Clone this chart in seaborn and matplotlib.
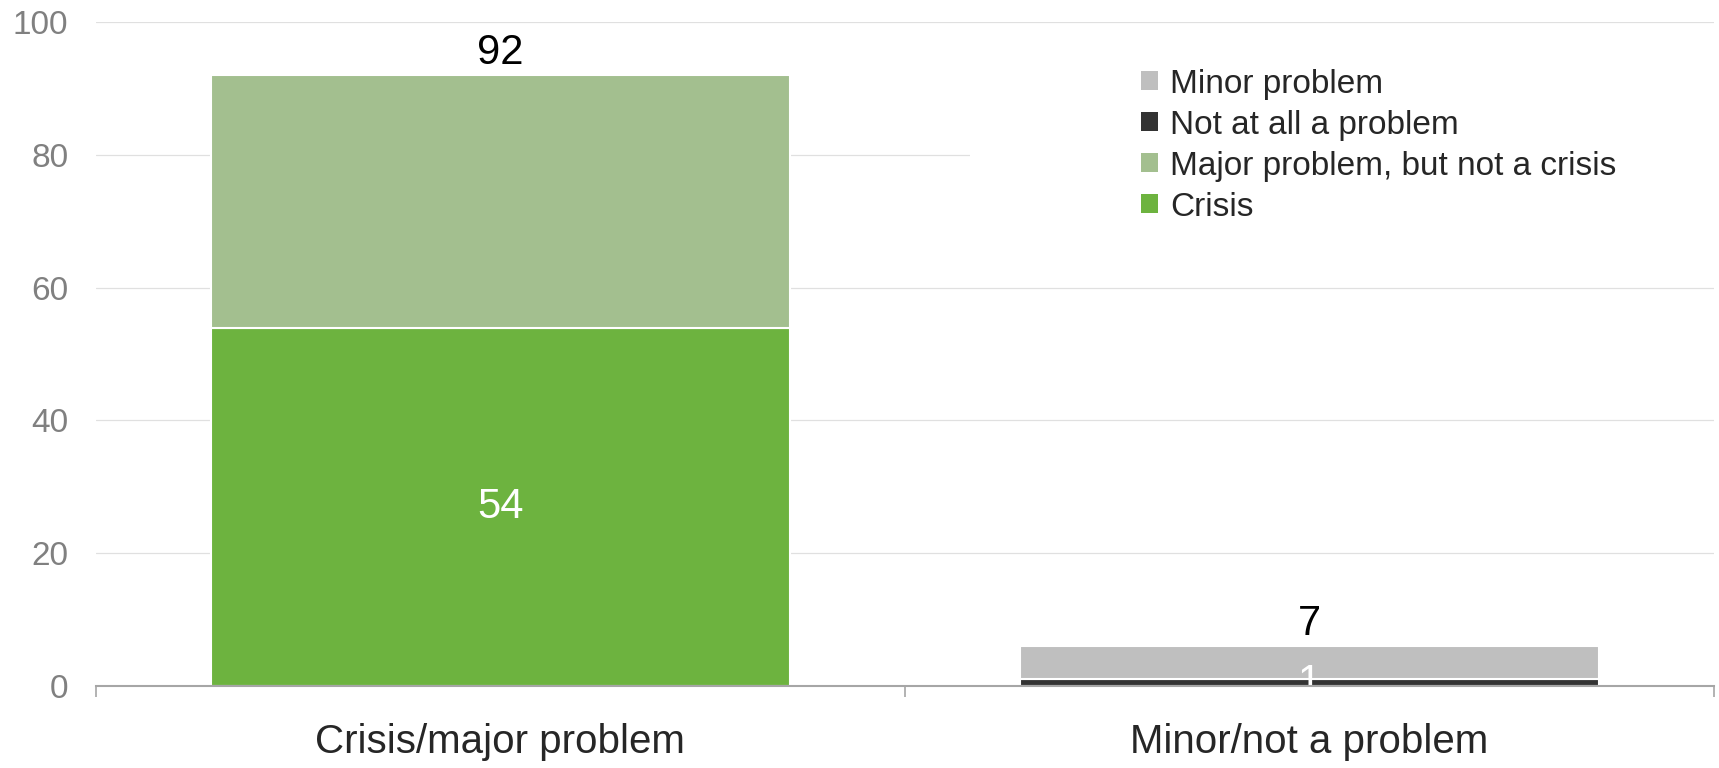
import numpy as np
import pandas as pd
import matplotlib
matplotlib.use("Agg")
import matplotlib.pyplot as plt
import seaborn as sns
from matplotlib.patches import Patch, Rectangle

# chart data
categories = ["Crisis/major problem", "Minor/not a problem"]
series_names = ["Crisis", "Major problem, but not a crisis", "Not at all a problem", "Minor problem"]
crisis = [54, 0]
major = [38, 0]
not_at_all = [0, 1]
minor = [0, 5]
total_labels = [92, 7]
colors = ["#6db33f", "#a3bf8f", "#333333", "#bfbfbf"]

sns.set_theme(style="white")
plt.rcParams["font.family"] = ["Liberation Sans", "DejaVu Sans"]

rows = []
for name, vals in zip(series_names, [crisis, major, not_at_all, minor]):
    for cat, v in zip(categories, vals):
        rows.append({"category": cat, "series": name, "value": v})
df = pd.DataFrame(rows)

fig = plt.figure(figsize=(17.19, 7.68), dpi=100)
ax = fig.add_axes([0.0558, 0.107, 0.9412, 0.864])

# gridlines + white box behind legend
for yv in range(20, 101, 20):
    ax.axhline(yv, color="#e0e0e0", lw=0.9, zorder=0)
ax.add_patch(Rectangle((0.54, 0.70), 0.46, 0.265, transform=ax.transAxes,
                       facecolor="white", edgecolor="none", zorder=0.5))

bottoms = {c: 0.0 for c in categories}
for name, color in zip(series_names, colors):
    sub = df[(df.series == name) & (df.value > 0)].reset_index(drop=True)
    if sub.empty:
        continue
    b = np.array([bottoms[c] for c in sub.category])
    sns.barplot(data=sub, x="category", y="value", order=categories, bottom=b,
                color=color, saturation=1, width=0.716, edgecolor="white",
                linewidth=1.5, ax=ax, zorder=2)
    for c, v, bb in zip(sub.category, sub.value, b):
        i = categories.index(c)
        if name in ("Crisis", "Not at all a problem"):
            ax.text(i, bb + v / 2, f"{v}", ha="center", va="center",
                    color="white", fontsize=30, zorder=3)
        bottoms[c] += v

for i, c in enumerate(categories):
    ax.annotate(f"{total_labels[i]}", (i, bottoms[c]), xytext=(0, 8),
                textcoords="offset points", ha="center", va="baseline",
                fontsize=30, color="black")

ax.set_ylim(0, 100)
ax.set_xlim(-0.5, 1.5)
ax.set_yticks(range(0, 101, 20))
ax.set_xlabel("")
ax.set_ylabel("")
ax.tick_params(axis="y", length=0, pad=20, labelsize=24, labelcolor="#808080")
ax.tick_params(axis="x", which="major", length=0, pad=27, labelsize=29, labelcolor="#262626")
ax.set_xticks([-0.5, 0.5, 1.5], minor=True)
ax.tick_params(axis="x", which="minor", bottom=True, length=8, width=1.2,
               color="#a6a6a6", direction="out")
for s in ["top", "right", "left"]:
    ax.spines[s].set_visible(False)
ax.spines["bottom"].set_color("#a6a6a6")
ax.spines["bottom"].set_linewidth(1.5)
ax.spines["bottom"].set_zorder(4)

handles = [Patch(facecolor=col, edgecolor="none") for col in colors[::-1]]
ax.legend(handles, series_names[::-1], loc="upper left", bbox_to_anchor=(0.646, 0.93),
          frameon=False, fontsize=24, handlelength=0.5, handleheight=0.5,
          handletextpad=0.36, labelspacing=0.3, borderpad=0, borderaxespad=0)

fig.savefig("out.png", dpi=100)
